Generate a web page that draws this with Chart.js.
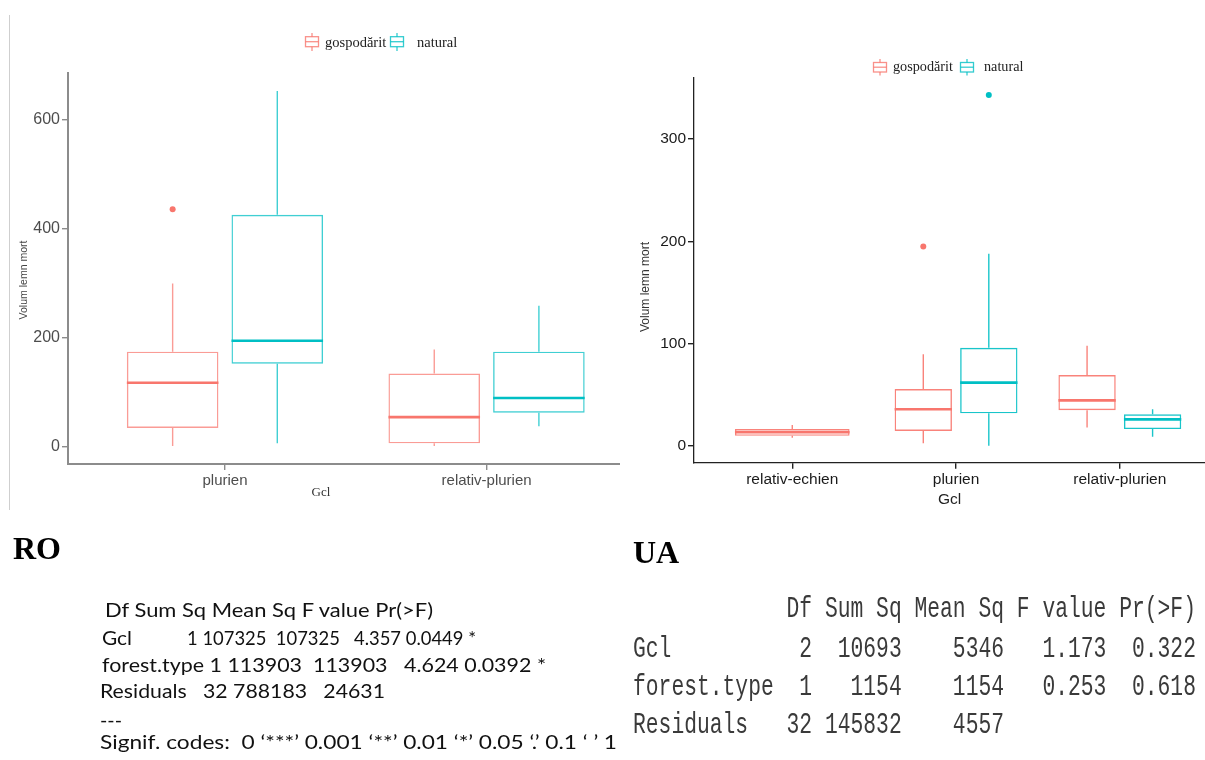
<!DOCTYPE html>
<html>
<head>
<meta charset="utf-8">
<script src="https://cdn.jsdelivr.net/npm/chart.js@4.4.1/dist/chart.umd.min.js"></script>
<style>
  html, body { margin: 0; padding: 0; background: #fff; }
  body { width: 1205px; height: 760px; position: relative; overflow: hidden; }
  .panel { position: absolute; }
  #ro-box { left: 0; top: 0; width: 620px; height: 510px; }
  #ua-box { left: 620px; top: 0; width: 585px; height: 520px; }
  #overlay { position: absolute; left: 0; top: 0; pointer-events: none; }
  #overlay text { white-space: pre; }
</style>
</head>
<body>
<div class="panel" id="ro-box"><canvas id="ro-chart"></canvas></div>
<div class="panel" id="ua-box"><canvas id="ua-chart"></canvas></div>

<svg id="overlay" width="1205" height="760" xmlns="http://www.w3.org/2000/svg">
  <line x1="9.5" y1="15" x2="9.5" y2="510" stroke="#cfcfcf" stroke-width="1"/>

  <!-- RO legend -->
  <g stroke="rgba(248,118,109,0.8)" stroke-width="1.3" fill="none">
    <line x1="312" y1="33" x2="312" y2="36.7"/><line x1="312" y1="46.7" x2="312" y2="51"/>
    <rect x="305.5" y="36.7" width="13" height="10"/><line x1="305.5" y1="41.7" x2="318.5" y2="41.7"/>
  </g>
  <g stroke="rgba(0,191,196,0.8)" stroke-width="1.3" fill="none">
    <line x1="397" y1="33" x2="397" y2="36.7"/><line x1="397" y1="46.7" x2="397" y2="51"/>
    <rect x="390.5" y="36.7" width="13" height="10"/><line x1="390.5" y1="41.7" x2="403.5" y2="41.7"/>
  </g>
  <text x="325" y="46.5" font-family="Liberation Serif" font-size="14.5" fill="#222">gospodărit</text>
  <text x="417" y="46.5" font-family="Liberation Serif" font-size="14.5" fill="#222">natural</text>

  <!-- UA legend -->
  <g stroke="rgba(248,118,109,0.8)" stroke-width="1.3" fill="none">
    <line x1="880" y1="59" x2="880" y2="62.5"/><line x1="880" y1="72" x2="880" y2="75.5"/>
    <rect x="873.5" y="62.5" width="13" height="9.5"/><line x1="873.5" y1="67.2" x2="886.5" y2="67.2"/>
  </g>
  <g stroke="rgba(0,191,196,0.8)" stroke-width="1.3" fill="none">
    <line x1="967" y1="59" x2="967" y2="62.5"/><line x1="967" y1="72" x2="967" y2="75.5"/>
    <rect x="960.5" y="62.5" width="13" height="9.5"/><line x1="960.5" y1="67.2" x2="973.5" y2="67.2"/>
  </g>
  <text x="893" y="71" font-family="Liberation Serif" font-size="14.2" fill="#222">gospodărit</text>
  <text x="984" y="71" font-family="Liberation Serif" font-size="14.2" fill="#222">natural</text>

  <!-- axis titles -->
  <text x="26.5" y="280" transform="rotate(-90 26.5 280)" text-anchor="middle" font-family="Liberation Sans" font-size="10.5" fill="#444">Volum lemn mort</text>
  <text x="649" y="287" transform="rotate(-90 649 287)" text-anchor="middle" font-family="Liberation Sans" font-size="12" fill="#333">Volum lemn mort</text>
  <text x="321" y="496" text-anchor="middle" font-family="Liberation Serif" font-size="13" fill="#333">Gcl</text>

  <!-- headings -->
  <text x="13" y="559" font-family="Liberation Serif" font-weight="bold" font-size="32" fill="#000">RO</text>
  <text x="633" y="563" font-family="Liberation Serif" font-weight="bold" font-size="32" fill="#000">UA</text>

  <!-- RO anova -->
  <g font-family="Lato" font-size="19.5" fill="#111">
    <text x="105" y="617" textLength="328" lengthAdjust="spacingAndGlyphs">Df Sum Sq Mean Sq F value Pr(>F)</text>
    <text x="102" y="645" textLength="30" lengthAdjust="spacingAndGlyphs">Gcl</text>
    <text x="187" y="645" textLength="289" lengthAdjust="spacingAndGlyphs">1 107325  107325   4.357 0.0449 *</text>
    <text x="102" y="672" textLength="444" lengthAdjust="spacingAndGlyphs">forest.type 1 113903  113903   4.624 0.0392 *</text>
    <text x="100" y="698" textLength="285" lengthAdjust="spacingAndGlyphs">Residuals   32 788183   24631</text>
    <text x="100" y="727" textLength="22" lengthAdjust="spacingAndGlyphs">---</text>
    <text x="100" y="749" textLength="517" lengthAdjust="spacingAndGlyphs">Signif. codes:  0 ‘***’ 0.001 ‘**’ 0.01 ‘*’ 0.05 ‘.’ 0.1 ‘ ’ 1</text>
  </g>

  <!-- UA anova -->
  <g font-family="Liberation Mono" font-size="21.33" fill="#3a3a3a">
    <text transform="translate(633 617) scale(1 1.35)">            Df Sum Sq Mean Sq F value Pr(>F)</text>
    <text transform="translate(633 657) scale(1 1.35)">Gcl          2  10693    5346   1.173  0.322</text>
    <text transform="translate(633 695) scale(1 1.35)">forest.type  1   1154    1154   0.253  0.618</text>
    <text transform="translate(633 733) scale(1 1.35)">Residuals   32 145832    4557</text>
  </g>
</svg>

<script>
// RO: Volum lemn mort by Gcl and forest type
const roLabels  = ['plurien', 'relativ-plurien'];
const roGosLow  = [1, 1];
const roGosQ1   = [34, 6];
const roGosMed  = [117, 54];
const roGosQ3   = [174, 134];
const roGosHigh = [299, 178];
const roGosOut  = [[435], []];
const roNatLow  = [6, 37];
const roNatQ1   = [152, 62];
const roNatMed  = [194, 89];
const roNatQ3   = [425, 174];
const roNatHigh = [652, 258];
const roNatOut  = [[], []];

// UA: no natural stands in relativ-echien
const uaLabels  = ['relativ-echien', 'plurien', 'relativ-plurien'];
const uaGosLow  = [8, 2.6, 18];
const uaGosQ1   = [10, 14.7, 35];
const uaGosMed  = [13.4, 36, 44.6];
const uaGosQ3   = [16.6, 55.7, 69.4];
const uaGosHigh = [20.5, 89.6, 98];
const uaGosOut  = [[], [195], []];
const uaNatLow  = [null, 0.3, 9];
const uaNatQ1   = [null, 32, 16.6];
const uaNatMed  = [null, 62, 26];
const uaNatQ3   = [null, 96, 31];
const uaNatHigh = [null, 188, 36];
const uaNatOut  = [[], [343], []];

const RED = '#F8766D', TEAL = '#00BFC4';

function boxSet(label, color, edge, q1, q3, low, med, high, out) {
  return {
    label: label,
    data: q1.map((v, i) => ({ x: i + 1, y: v == null ? null : [v, q3[i]] })),
    backgroundColor: 'rgba(255,255,255,0)',
    borderColor: edge,
    borderWidth: 1.4,
    borderSkipped: false,
    categoryPercentage: 0.8,
    barPercentage: 0.875,
    skipNull: true,
    whisker: { low: low, med: med, high: high, out: out, color: color, edge: edge }
  };
}

// medians, whiskers and outliers on top of the floating bars
const boxWhiskers = {
  id: 'boxWhiskers',
  afterDatasetsDraw(chart) {
    const ctx = chart.ctx;
    const y = chart.scales.y;
    chart.data.datasets.forEach((ds, di) => {
      const w = ds.whisker;
      chart.getDatasetMeta(di).data.forEach((bar, i) => {
        if (w.med[i] == null) return;
        const half = bar.width / 2;
        const top = Math.min(bar.y, bar.base);
        const bottom = Math.max(bar.y, bar.base);
        ctx.save();
        ctx.strokeStyle = w.edge;
        ctx.lineWidth = 1.4;
        ctx.beginPath();
        ctx.moveTo(bar.x, top);
        ctx.lineTo(bar.x, y.getPixelForValue(w.high[i]));
        ctx.moveTo(bar.x, bottom);
        ctx.lineTo(bar.x, y.getPixelForValue(w.low[i]));
        ctx.stroke();
        const my = y.getPixelForValue(w.med[i]);
        ctx.strokeStyle = w.color;
        ctx.lineWidth = 2.6;
        ctx.beginPath();
        ctx.moveTo(bar.x - half, my);
        ctx.lineTo(bar.x + half, my);
        ctx.stroke();
        ctx.fillStyle = w.color;
        w.out[i].forEach(v => {
          ctx.beginPath();
          ctx.arc(bar.x, y.getPixelForValue(v), 3, 0, 2 * Math.PI);
          ctx.fill();
        });
        ctx.restore();
      });
    });
  }
};

function axisStyle(color, lineW) {
  return {
    grid: { display: true, offset: false, drawOnChartArea: false, drawTicks: true, tickLength: 6, color: color, lineWidth: 1.4 },
    border: { display: true, color: color, width: lineW }
  };
}

var roChart = new Chart(document.getElementById('ro-chart').getContext('2d'), {
  type: 'bar',
  data: {
    datasets: [
      boxSet('gospodărit', RED, 'rgba(248,118,109,0.72)', roGosQ1, roGosQ3, roGosLow, roGosMed, roGosHigh, roGosOut),
      boxSet('natural', TEAL, 'rgba(0,191,196,0.75)', roNatQ1, roNatQ3, roNatLow, roNatMed, roNatHigh, roNatOut)
    ]
  },
  plugins: [boxWhiskers],
  options: {
    responsive: true,
    maintainAspectRatio: false,
    animation: false,
    events: [],
    layout: { padding: { top: 73, left: 0, right: 0, bottom: 0 } },
    plugins: { legend: { display: false }, tooltip: { enabled: false } },
    scales: {
      x: Object.assign({
        type: 'linear', min: 0.4, max: 2.51, offset: false,
        afterFit: s => { s.height = 46; },
        ticks: {
          stepSize: 1, includeBounds: false, autoSkip: false, maxRotation: 0, padding: 2,
          color: '#4d4d4d', font: { family: 'Liberation Sans', size: 15 },
          callback: v => roLabels[v - 1] || ''
        }
      }, axisStyle('#8c8c8c', 2)),
      y: Object.assign({
        min: -32, max: 685,
        afterFit: s => { s.width = 68; },
        ticks: {
          stepSize: 200, includeBounds: false, padding: 2,
          color: '#4d4d4d', font: { family: 'Liberation Sans', size: 16 }
        }
      }, axisStyle('#8c8c8c', 2))
    }
  }
});

var uaChart = new Chart(document.getElementById('ua-chart').getContext('2d'), {
  type: 'bar',
  data: {
    datasets: [
      boxSet('gospodărit', RED, 'rgba(248,118,109,0.9)', uaGosQ1, uaGosQ3, uaGosLow, uaGosMed, uaGosHigh, uaGosOut),
      boxSet('natural', TEAL, 'rgba(0,191,196,0.9)', uaNatQ1, uaNatQ3, uaNatLow, uaNatMed, uaNatHigh, uaNatOut)
    ]
  },
  plugins: [boxWhiskers],
  options: {
    responsive: true,
    maintainAspectRatio: false,
    animation: false,
    events: [],
    layout: { padding: { top: 78, left: 0, right: 0, bottom: 0 } },
    plugins: { legend: { display: false }, tooltip: { enabled: false } },
    scales: {
      x: Object.assign({
        type: 'linear', min: 0.4, max: 3.52, offset: false,
        afterFit: s => { s.height = 57.3; },
        title: {
          display: true, text: 'Gcl', color: '#222',
          font: { family: 'Liberation Sans', size: 15.5 }, padding: { top: 0, bottom: 11 }
        },
        ticks: {
          stepSize: 1, includeBounds: false, autoSkip: false, maxRotation: 0, padding: 2,
          color: '#1a1a1a', font: { family: 'Liberation Sans', size: 15.5 },
          callback: v => uaLabels[v - 1] || ''
        }
      }, axisStyle('#222', 1.3)),
      y: Object.assign({
        min: -16.3, max: 359.7,
        afterFit: s => { s.width = 74; },
        ticks: {
          stepSize: 100, includeBounds: false, padding: 2,
          color: '#1a1a1a', font: { family: 'Liberation Sans', size: 15.5 }
        }
      }, axisStyle('#222', 1.3))
    }
  }
});
</script>
</body>
</html>
